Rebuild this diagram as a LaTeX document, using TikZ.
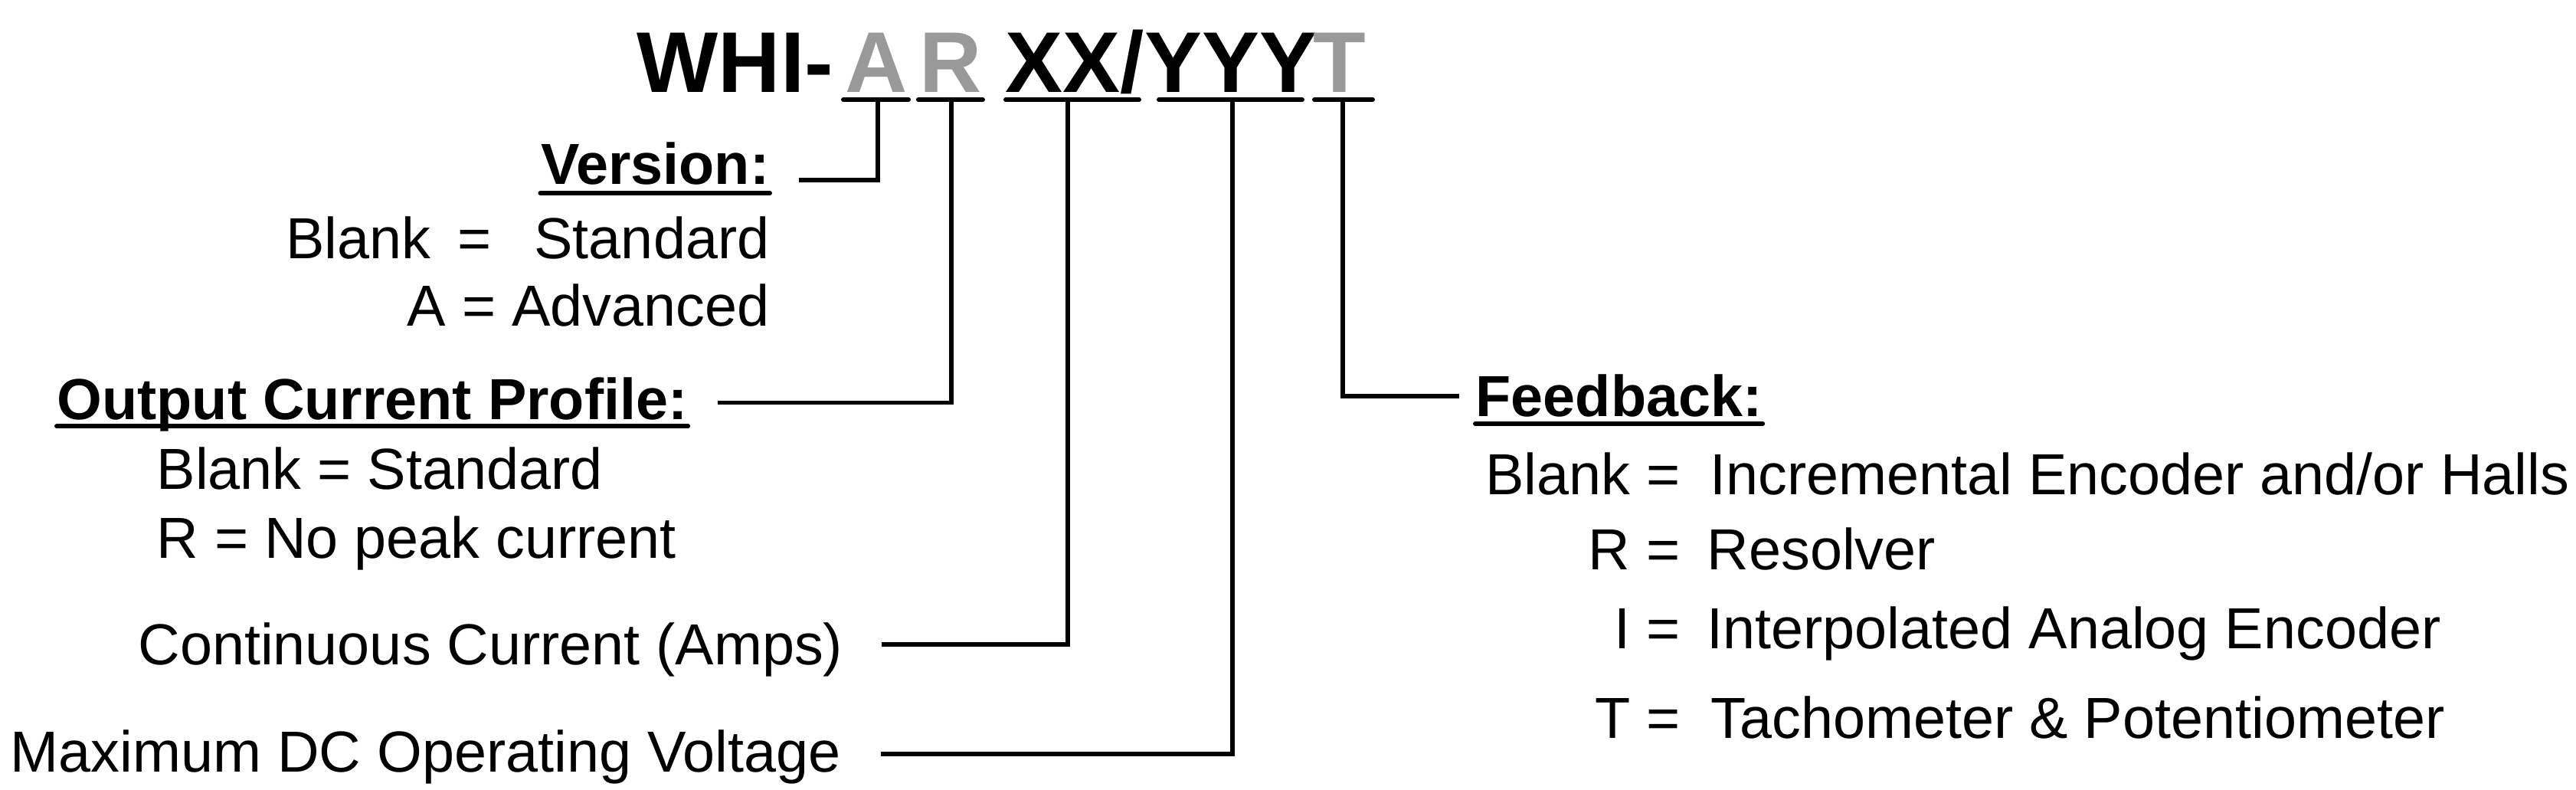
\documentclass[tikz,border=0pt]{standalone}
\usepackage{fontspec}
\setmainfont{Liberation Sans}
\usepackage{xcolor}
\definecolor{codegray}{RGB}{153,153,153}
\usepackage{tikz}
\usetikzlibrary{positioning}

\tikzset{
  ttl/.style={font=\fontsize{32}{32}\selectfont\bfseries, inner sep=0pt},
  lbl/.style={font=\fontsize{21.5}{24}\selectfont, inner sep=0pt, text height=0.54cm, text depth=0pt},
  hdr/.style={lbl, font=\fontsize{21.5}{24}\selectfont\bfseries},
  uline/.style={line width=1.7pt, line cap=round},
  lead/.style={line width=1.5pt},
}

\begin{document}
\begin{tikzpicture}
\useasboundingbox (0,0) rectangle (33.63,10.31);

% === Part number ===
\node[ttl, anchor=base west] (whi) at (8.31,9.10) {WHI-};
\node[ttl, codegray, anchor=base] (sA) at (11.44,9.10) {A};
\node[ttl, codegray, anchor=base] (sR) at (12.41,9.10) {R};
\node[ttl, anchor=base west] (sXY) at (13.12,9.10) {XX/YYY};
\node[ttl, codegray, anchor=base] (sT) at (17.49,9.10) {T};

% underlines under each field
\draw[uline] (11.01,9.01) -- (11.86,9.01);
\draw[uline] (11.99,9.01) -- (12.83,9.01);
\draw[uline] (13.13,9.01) -- (14.87,9.01);
\draw[uline] (15.13,9.01) -- (17.00,9.01);
\draw[uline] (17.16,9.01) -- (17.92,9.01);

\coordinate (uA) at (11.46,9.01);
\coordinate (uR) at (12.42,9.01);
\coordinate (uX) at (13.94,9.01);
\coordinate (uY) at (16.09,9.01);
\coordinate (uT) at (17.53,9.01);

% === Version ===
\node[hdr, anchor=base east] (ver) at (10.05,7.90) {Version:};
\draw[uline] ([yshift=-1.1mm]ver.base west) -- ([yshift=-1.1mm]ver.base east);
\node[lbl, anchor=base east] (verB) at (10.05,6.93) {Blank\hspace{0.35cm}=\hspace{0.56cm}Standard};
\node[lbl, anchor=base east] (verA) at (10.05,6.05) {A = Advanced};

% === Output current profile ===
\node[hdr, anchor=base west] (ocp) at (0.74,4.835) {Output Current Profile:};
\draw[uline] ([yshift=-0.9mm]ocp.base west) -- ([yshift=-0.9mm]ocp.base east);
\node[lbl, anchor=base west] (ocpB) at (2.04,3.92) {Blank = Standard};
\node[lbl, anchor=base west] (ocpR) at (2.04,3.02) {R = No peak current};

% === Current and voltage ===
\node[lbl, anchor=base east] (cont) at (11.01,1.63) {Continuous Current (Amps)};
\node[lbl, anchor=base east] (volt) at (10.98,0.23) {Maximum DC Operating Voltage};

% === Feedback ===
\node[hdr, anchor=base west] (fb) at (19.26,4.87) {Feedback:};
\draw[uline] ([yshift=-0.9mm]fb.base west) -- ([yshift=-0.9mm]fb.base east);
\node[lbl, anchor=base east] (fbBk) at (21.94,3.85) {Blank =};
\node[lbl, anchor=base west] (fbBv) at (22.32,3.85) {Incremental Encoder and/or Halls};
\node[lbl, anchor=base east] (fbRk) at (21.94,2.87) {R =};
\node[lbl, anchor=base west] (fbRv) at (22.28,2.87) {Resolver};
\node[lbl, anchor=base east] (fbIk) at (21.94,1.84) {I =};
\node[lbl, anchor=base west] (fbIv) at (22.28,1.84) {Interpolated Analog Encoder};
\node[lbl, anchor=base east] (fbTk) at (21.94,0.67) {T =};
\node[lbl, anchor=base west] (fbTv) at (22.33,0.67) {Tachometer \& Potentiometer};

% === Leads ===
\draw[lead] (uA) |- ([xshift=3.8mm,yshift=-2.1mm]ver.east);
\draw[lead] (uR) |- ([xshift=3.9mm,yshift=-0.5mm]ocp.east);
\draw[lead] (uX) |- ([xshift=5mm]cont.east);
\draw[lead] (uY) |- ([xshift=5.2mm,yshift=-0.3mm]volt.east);
\draw[lead] (uT) |- ([xshift=-2.1mm]fb.west);

\end{tikzpicture}
\end{document}
